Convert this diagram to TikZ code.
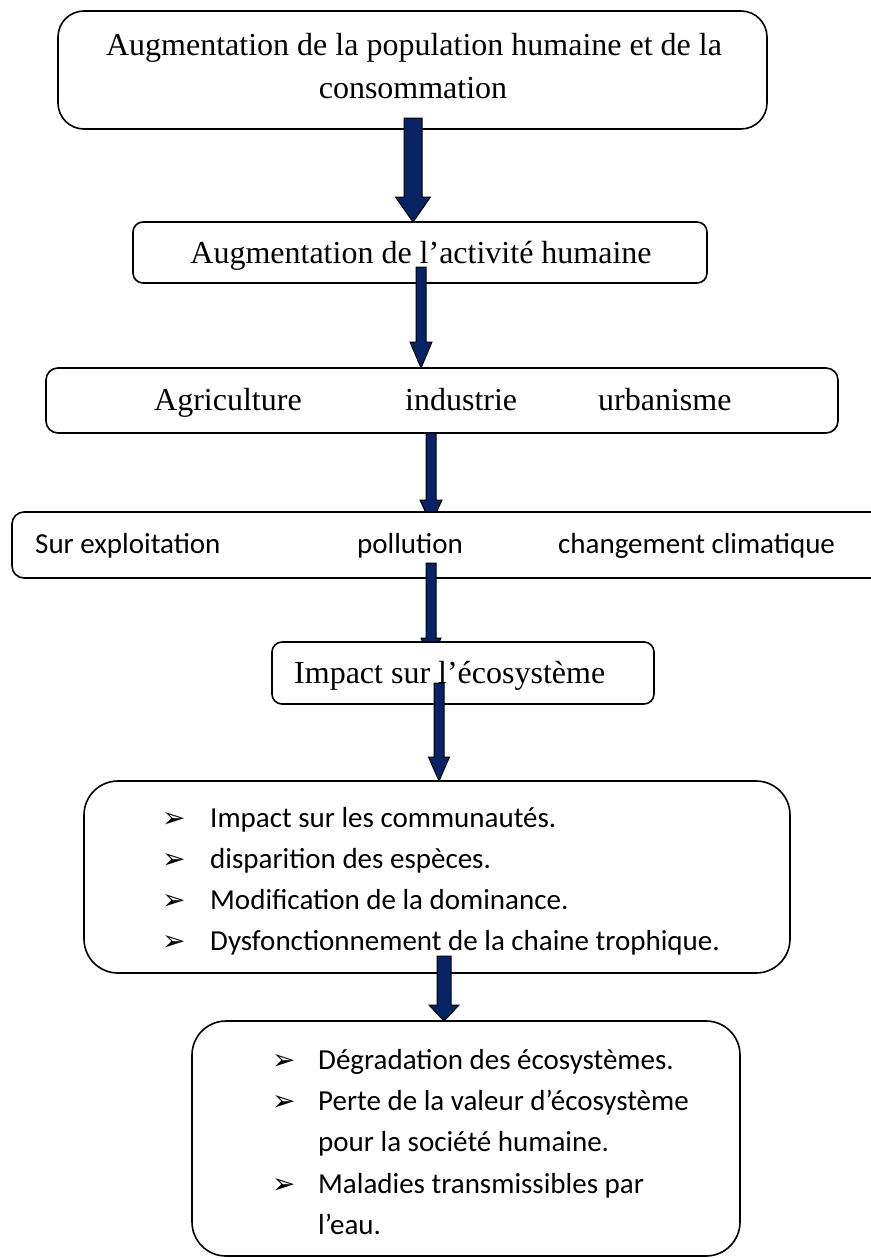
\documentclass[tikz,border=0pt]{standalone}
\usepackage{fontspec}
\usetikzlibrary{calc}
\newfontfamily\tnrfont{Liberation Serif}
\newfontfamily\calfont{Carlito}
\newfontfamily\dvfont{DejaVu Sans}
\definecolor{navy}{RGB}{8,36,100}
\tikzset{
  box/.style={draw=black, line width=1.6pt, fill=white, inner sep=0pt, rectangle},
  serif/.style={inner sep=0pt, font=\tnrfont\fontsize{32}{38}\selectfont},
  sans/.style={inner sep=0pt, font=\calfont\fontsize{29}{35}\selectfont},
  bul/.style={inner sep=0pt, font=\dvfont\fontsize{28}{32}\selectfont},
  arrowstyle/.style={draw=black, line width=1pt, fill=navy, line join=miter}
}
\newcommand\barrow[5]{%
  \draw[arrowstyle] ($(#1)+(-#3,0)$) -- ($(#1)+(#3,0)$) -- ($(#2)+(#3,-#5)$) -- ($(#2)+(#4,-#5)$) -- (#2) -- ($(#2)+(-#4,-#5)$) -- ($(#2)+(-#3,-#5)$) -- cycle;}
\begin{document}
\begin{tikzpicture}[x=1pt,y=-1pt]
\useasboundingbox[fill=white] (0,0) rectangle (870,1258);
% Box 1
\node[box, rounded corners=26pt, minimum width=709pt, minimum height=118pt] (b1) at (412.5,70) {};
\node[serif, anchor=base] (t1a) at (414,55) {Augmentation de la population humaine et de la};
\node[serif, anchor=base] (t1b) at (413,98) {consommation};
% Box 2
\node[box, rounded corners=10pt, minimum width=574pt, minimum height=61pt] (b2) at (420,252.5) {};
\node[serif, anchor=base] (t2) at (421,263) {Augmentation de l’activité humaine};
% Arrow 1 and 2
\coordinate (a1s) at (413,118); \coordinate (a1e) at (413,222);
\barrow{a1s}{a1e}{9}{17.5}{25}
\coordinate (a2s) at (421,267); \coordinate (a2e) at (421,368);
\barrow{a2s}{a2e}{5}{11}{26}
% Box 3
\node[box, rounded corners=12pt, minimum width=792pt, minimum height=65pt] (b3) at (442,400.5) {};
\node[serif, anchor=base west] (t3a) at (154,410) {Agriculture};
\node[serif, anchor=base west] (t3b) at (405,410) {industrie};
\node[serif, anchor=base west] (t3c) at (598,410) {urbanisme};
% Arrow 3
\coordinate (a3s) at (431,433); \coordinate (a3e) at (431,524);
\barrow{a3s}{a3e}{5}{11}{24}
% Box 4
\node[box, rounded corners=12pt, minimum width=878pt, minimum height=66pt] (b4) at (451,545) {};
\node[sans, anchor=base west] (t4a) at (35,553) {Sur exploitation};
\node[sans, anchor=base west] (t4b) at (357,553) {pollution};
\node[sans, anchor=base west] (t4c) at (558,553) {changement climatique};
% Arrow 4
\coordinate (a4s) at (431,563); \coordinate (a4e) at (431,662);
\barrow{a4s}{a4e}{5}{10}{24}
% Box 5
\node[box, rounded corners=10pt, minimum width=382pt, minimum height=62pt] (b5) at (463,673) {};
\node[serif, anchor=base west] (t5) at (294,683) {Impact sur l’écosystème};
% Arrow 5
\coordinate (a5s) at (439,683); \coordinate (a5e) at (439,781);
\barrow{a5s}{a5e}{5}{10.5}{24}
% Box 6
\node[box, rounded corners=34pt, minimum width=706pt, minimum height=192pt] (b6) at (437,877) {};
\node[bul, anchor=base west] (p61) at (162,827) {➢};
\node[sans, anchor=base west] (t61) at (210,827) {Impact sur les communautés.};
\node[bul, anchor=base west] (p62) at (162,868) {➢};
\node[sans, anchor=base west] (t62) at (210,868) {disparition des espèces.};
\node[bul, anchor=base west] (p63) at (162,909) {➢};
\node[sans, anchor=base west] (t63) at (210,909) {Modification de la dominance.};
\node[bul, anchor=base west] (p64) at (162,950) {➢};
\node[sans, anchor=base west] (t64) at (210,950) {Dysfonctionnement de la chaine trophique.};
% Arrow 6
\coordinate (a6s) at (444,956); \coordinate (a6e) at (444,1021);
\barrow{a6s}{a6e}{7}{15}{16}
% Box 7
\node[box, rounded corners=34pt, minimum width=548pt, minimum height=235pt] (b7) at (466,1138.5) {};
\node[bul, anchor=base west] (p71) at (272,1069) {➢};
\node[sans, anchor=base west] (t71) at (318,1069) {Dégradation des écosystèmes.};
\node[bul, anchor=base west] (p72) at (272,1110) {➢};
\node[sans, anchor=base west] (t72) at (318,1110) {Perte de la valeur d’écosystème};
\node[sans, anchor=base west] (t72b) at (318,1151) {pour la société humaine.};
\node[bul, anchor=base west] (p73) at (272,1193) {➢};
\node[sans, anchor=base west] (t73) at (318,1193) {Maladies transmissibles par};
\node[sans, anchor=base west] (t73b) at (318,1234) {l’eau.};
\end{tikzpicture}
\end{document}
